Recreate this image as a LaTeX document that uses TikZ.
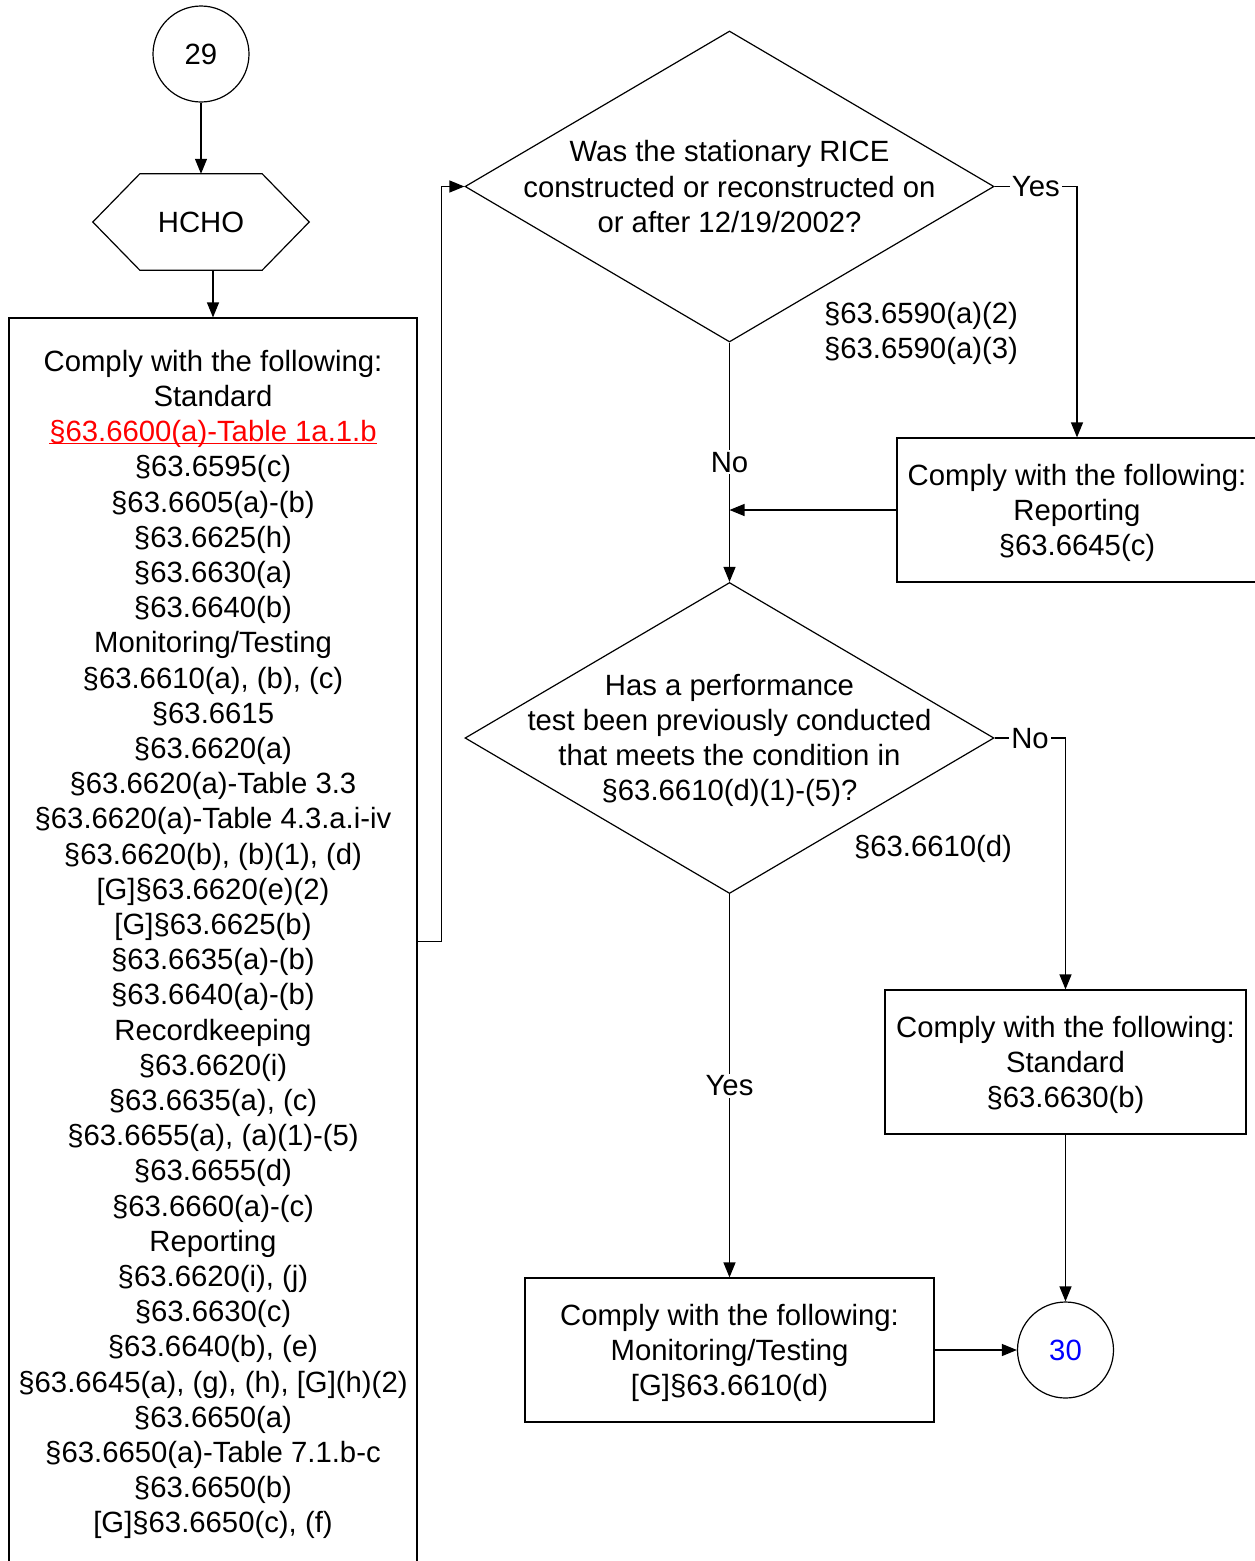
\documentclass[tikz,border=0pt]{standalone}
\usepackage{fontspec}
\setmainfont{Liberation Sans}
\usetikzlibrary{arrows.meta,shapes.geometric}
\definecolor{linkred}{RGB}{255,0,0}
\definecolor{refblue}{RGB}{0,0,255}

\begin{document}
\begin{tikzpicture}[x=1pt,y=-1pt,
  every node/.style={font=\fontsize{29.3}{35.2}\selectfont, align=center, inner sep=0pt, text depth=0pt},
  line/.style={draw=black, line width=1.2pt},
  arr/.style={line, -{Triangle[length=15pt,width=12pt]}},
  box/.style={draw, line width=1.2pt, rectangle},
  conn/.style={draw, circle, line width=1.2pt, minimum size=96pt},
  dec/.style={draw, diamond, line width=1.2pt, minimum width=529pt, minimum height=311pt, inner sep=0pt},
  lbl/.style={fill=white, inner sep=2pt}
]
\useasboundingbox (0,0) rectangle (1255,1561);
\clip (0,0) rectangle (1255,1561);

% start connector and pollutant tag
\node[conn] (c29) at (201,54) {29};
\node[minimum width=216pt, minimum height=96pt] (hcho) at (201,222) {HCHO};
\draw[line] (hcho.west) -- ([xshift=47pt]hcho.north west) -- ([xshift=-47pt]hcho.north east)
  -- (hcho.east) -- ([xshift=-47pt]hcho.south east) -- ([xshift=47pt]hcho.south west) -- cycle;

% long requirement list
\node[box, minimum width=408pt, minimum height=1247pt] (lbox) at (213,941.5) {%
Comply with the following:\\
Standard\\
\textcolor{linkred}{\underline{\raisebox{0pt}[\height][0.5pt]{§63.6600(a)-Table 1a.1.b}}}\\
§63.6595(c)\\
§63.6605(a)-(b)\\
§63.6625(h)\\
§63.6630(a)\\
§63.6640(b)\\
Monitoring/Testing\\
§63.6610(a), (b), (c)\\
§63.6615\\
§63.6620(a)\\
§63.6620(a)-Table 3.3\\
§63.6620(a)-Table 4.3.a.i-iv\\
§63.6620(b), (b)(1), (d)\\
{[G]§63.6620(e)(2)}\\
{[G]§63.6625(b)}\\
§63.6635(a)-(b)\\
§63.6640(a)-(b)\\
Recordkeeping\\
§63.6620(i)\\
§63.6635(a), (c)\\
§63.6655(a), (a)(1)-(5)\\
§63.6655(d)\\
§63.6660(a)-(c)\\
Reporting\\
§63.6620(i), (j)\\
§63.6630(c)\\
§63.6640(b), (e)\\
§63.6645(a), (g), (h), [G](h)(2)\\
§63.6650(a)\\
§63.6650(a)-Table 7.1.b-c\\
§63.6650(b)\\
{[G]§63.6650(c), (f)}};

% decisions
\node[dec] (d1) at (729.5,186.5) {};
\node (d1t) at (d1.center) {Was the stationary RICE\\constructed or reconstructed on\\or after 12/19/2002?};
\node[dec] (d2) at (729.5,738) {};
\node (d2t) at (729.5,737.5) {Has a performance\\test been previously conducted\\that meets the condition in\\§63.6610(d)(1)-(5)?};

% outcome boxes
\node[box, minimum width=360pt, minimum height=144pt] (rbox) at (1077,510) {Comply with the following:\\Reporting\\§63.6645(c)};
\node[box, minimum width=361pt, minimum height=144pt] (sbox) at (1065.5,1062) {Comply with the following:\\Standard\\§63.6630(b)};
\node[box, minimum width=409pt, minimum height=144pt] (mbox) at (729.5,1350) {Comply with the following:\\Monitoring/Testing\\{[G]§63.6610(d)}};
\node[conn, text=refblue] (c30) at (1065.5,1350) {30};

% citations beside the decisions
\node (cit1) at (921,330) {§63.6590(a)(2)\\§63.6590(a)(3)};
\node (cit2) at (933,846) {§63.6610(d)};

% connectors
\draw[arr] (c29) -- (hcho.north);
\draw[arr] (hcho.south -| lbox.north) -- (lbox.north);
\draw[arr] (lbox.east) -- ++(24pt,0) |- (d1.west);
\draw[arr] (d1.east) -- node[lbl] {Yes} (d1.east -| rbox.north) -- (rbox.north);
\draw[arr] (d1.south) -- node[lbl] {No} (d2.north);
\draw[arr] (rbox.west) -- (rbox.west -| d1.south);
\draw[arr] (d2.east) -- node[lbl] {No} (d2.east -| sbox.north) -- (sbox.north);
\draw[arr] (d2.south) -- node[lbl] {Yes} (mbox.north);
\draw[arr] (sbox.south) -- (c30.north);
\draw[arr] (mbox.east) -- (c30.west);
\end{tikzpicture}
\end{document}
